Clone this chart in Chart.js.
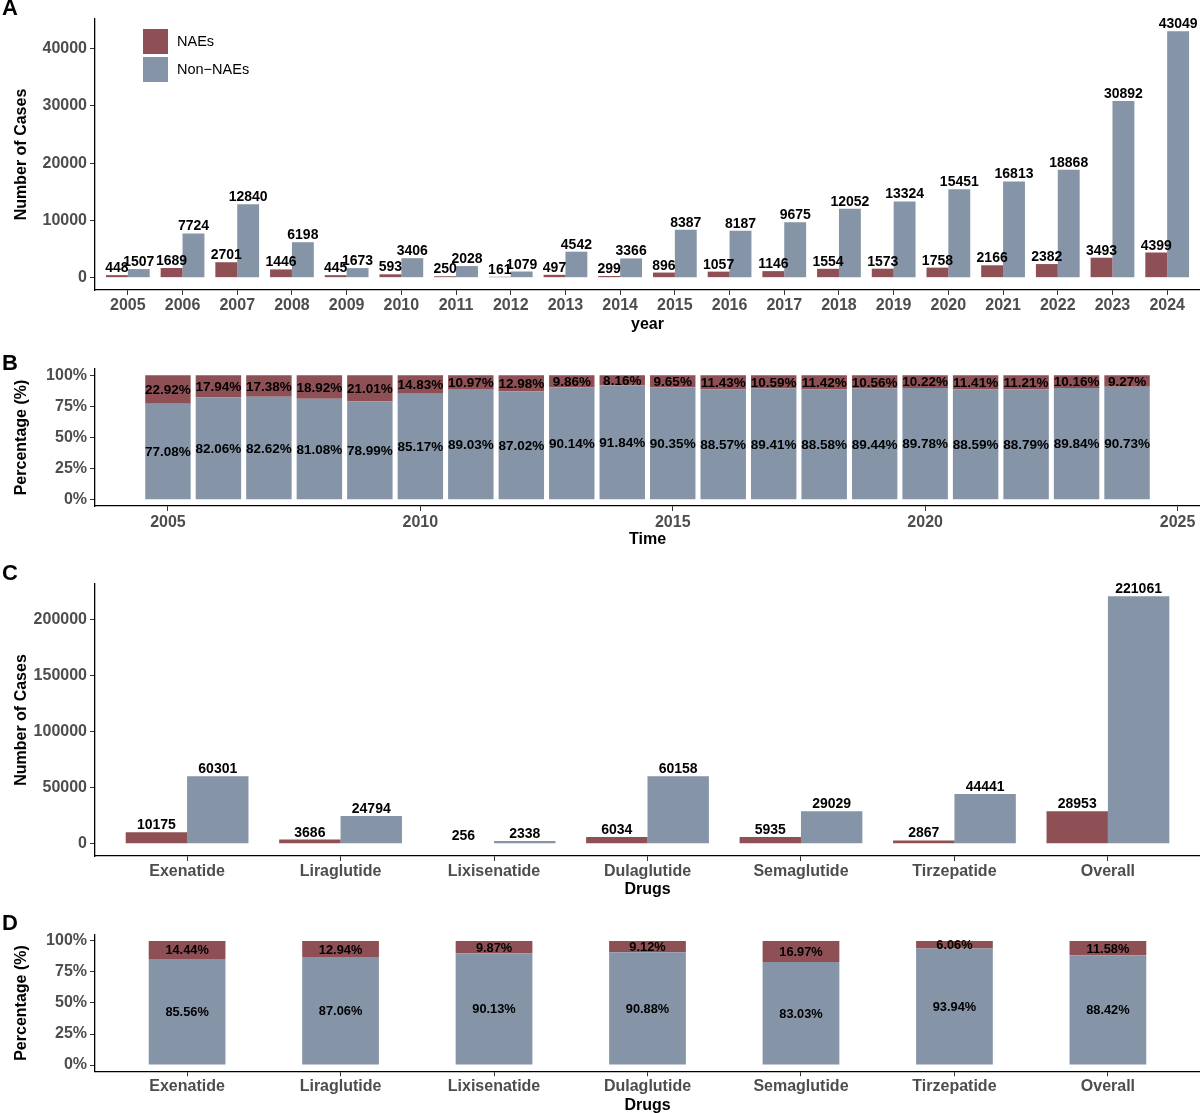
<!DOCTYPE html>
<html>
<head>
<meta charset="utf-8">
<script src="https://cdn.jsdelivr.net/npm/chart.js@4.4.1/dist/chart.umd.min.js"></script>
<style>
  body { margin: 0; background: #fff; overflow: hidden; font-family: "Liberation Sans", Arial, sans-serif; }
  #wrap { position: relative; width: 1200px; height: 1113px; overflow: hidden; }
  .panel { position: absolute; left: 0; }
  .tag { position: absolute; left: 2px; font-size: 22px; font-weight: bold; line-height: 1; }
  .sw { position: absolute; left: 143px; width: 25px; height: 25px; }
  .lt { position: absolute; left: 177px; font-size: 14.5px; line-height: 25px; color: #000; }
</style>
</head>
<body>
<div id="wrap">
  <canvas id="chartA" class="panel" style="top:0" width="1200" height="340"></canvas>
  <canvas id="chartB" class="panel" style="top:340px" width="1200" height="210"></canvas>
  <canvas id="chartC" class="panel" style="top:560px" width="1200" height="340"></canvas>
  <canvas id="chartD" class="panel" style="top:900px" width="1200" height="213"></canvas>
  <div class="tag" style="top:-3px">A</div>
  <div class="tag" style="top:352px">B</div>
  <div class="tag" style="top:562px">C</div>
  <div class="tag" style="top:912px">D</div>
  <div class="sw" style="top:29px;background:#8e5054"></div>
  <div class="sw" style="top:57px;background:#8594a7"></div>
  <div class="lt" style="top:29px">NAEs</div>
  <div class="lt" style="top:57px">Non−NAEs</div>
</div>
<script>
const RED = "#8e5054";
const BLUE = "#8594a7";

// panel A / B: by year
const years = [2005, 2006, 2007, 2008, 2009, 2010, 2011, 2012, 2013, 2014,
               2015, 2016, 2017, 2018, 2019, 2020, 2021, 2022, 2023, 2024];
const naeByYear = [448, 1689, 2701, 1446, 445, 593, 250, 161, 497, 299,
                   896, 1057, 1146, 1554, 1573, 1758, 2166, 2382, 3493, 4399];
const nonNaeByYear = [1507, 7724, 12840, 6198, 1673, 3406, 2028, 1079, 4542, 3366,
                      8387, 8187, 9675, 12052, 13324, 15451, 16813, 18868, 30892, 43049];
const naePctByYear = [22.92, 17.94, 17.38, 18.92, 21.01, 14.83, 10.97, 12.98, 9.86, 8.16,
                      9.65, 11.43, 10.59, 11.42, 10.56, 10.22, 11.41, 11.21, 10.16, 9.27];
const nonNaePctByYear = [77.08, 82.06, 82.62, 81.08, 78.99, 85.17, 89.03, 87.02, 90.14, 91.84,
                         90.35, 88.57, 89.41, 88.58, 89.44, 89.78, 88.59, 88.79, 89.84, 90.73];

// panel C / D: by drug
const drugs = ["Exenatide", "Liraglutide", "Lixisenatide", "Dulaglutide", "Semaglutide", "Tirzepatide", "Overall"];
const naeByDrug = [10175, 3686, 256, 6034, 5935, 2867, 28953];
const nonNaeByDrug = [60301, 24794, 2338, 60158, 29029, 44441, 221061];
const naePctByDrug = [14.44, 12.94, 9.87, 9.12, 16.97, 6.06, 11.58];
const nonNaePctByDrug = [85.56, 87.06, 90.13, 90.88, 83.03, 93.94, 88.42];

// tick labels
const countTicksA = [0, 10000, 20000, 30000, 40000];
const countTicksC = [0, 50000, 100000, 150000, 200000];
const pctTicks = [0, 25, 50, 75, 100];
const timeTicks = [2005, 2010, 2015, 2020, 2025];
const drugIdx = drugs.map((d, i) => i);

Chart.defaults.font.family = '"Liberation Sans", Arial, sans-serif';

// value labels on bars
const barLabels = {
  id: "barLabels",
  afterDatasetsDraw(chart, args, opts) {
    const ctx = chart.ctx;
    ctx.save();
    ctx.font = "bold " + opts.size + "px " + Chart.defaults.font.family;
    ctx.fillStyle = "#000";
    ctx.textAlign = "center";
    chart.data.datasets.forEach((ds, i) => {
      chart.getDatasetMeta(i).data.forEach((bar, j) => {
        const v = ds.data[j].y;
        if (opts.pct) {
          ctx.textBaseline = "middle";
          ctx.fillText(v.toFixed(2) + "%", bar.x, (bar.y + bar.base) / 2 + 1);
        } else {
          ctx.textBaseline = "alphabetic";
          ctx.fillText(String(v), bar.x, bar.y - 3);
        }
      });
    });
    ctx.restore();
  }
};

const pts = (xs, ys) => xs.map((x, i) => ({ x: x, y: ys[i] }));

function build(id, c) {
  const nae = { label: "NAEs", data: pts(c.xs, c.nae), backgroundColor: RED };
  const non = { label: "Non-NAEs", data: pts(c.xs, c.non), backgroundColor: BLUE };
  return new Chart(document.getElementById(id), {
    type: "bar",
    // stacked: blue at the bottom, red on top; grouped: red left, blue right
    data: { datasets: c.stacked ? [non, nae] : [nae, non] },
    plugins: [barLabels],
    options: {
      responsive: false,
      animation: false,
      barPercentage: c.barPct,
      categoryPercentage: c.catPct,
      layout: { padding: { top: c.top, left: 0, right: 0, bottom: 0 } },
      plugins: { legend: { display: false }, tooltip: { enabled: false }, barLabels: { pct: c.stacked, size: c.labelSize } },
      scales: {
        x: {
          type: "linear", min: c.xMin, max: c.xMax, stacked: c.stacked, offset: false,
          afterBuildTicks: (s) => { s.ticks = c.xTicks.map((v) => ({ value: v })); },
          afterFit: (s) => { s.height = c.xHeight; },
          grid: { drawOnChartArea: false, offset: false, tickLength: 5, color: "#333" },
          border: { display: true, color: "#000", width: 1.3 },
          ticks: { autoSkip: false, maxRotation: 0, padding: c.xTickPad, color: "#4d4d4d",
                   font: { size: 16, weight: "bold" }, callback: c.xFmt },
          title: { display: true, text: c.xTitle, color: "#000", font: { size: 16, weight: "bold" },
                   padding: { top: 0, bottom: c.xTitlePad } },
        },
        y: {
          min: c.yMin, max: c.yMax, stacked: c.stacked,
          afterBuildTicks: (s) => { s.ticks = c.yTicks.map((v) => ({ value: v })); },
          afterFit: (s) => { s.width = 95; },
          grid: { drawOnChartArea: false, tickLength: 5, color: "#333" },
          border: { display: true, color: "#000", width: 1.3 },
          ticks: { padding: 3, color: "#4d4d4d", font: { size: 16, weight: "bold" }, callback: c.yFmt },
          title: { display: true, text: c.yTitle, color: "#000", font: { size: 16, weight: "bold" },
                   padding: { top: 11.6, bottom: 0 } },
        },
      },
    },
  });
}

build("chartA", {
  xs: years, nae: naeByYear, non: nonNaeByYear, stacked: false,
  barPct: 1, catPct: 0.8, labelSize: 14, top: 19,
  xMin: 2004.4, xMax: 2024.6, xTicks: years, xFmt: (v) => String(v),
  xHeight: 50, xTickPad: 1, xTitle: "year", xTitlePad: 5.6,
  yMin: -2152, yMax: 45201, yTicks: countTicksA, yFmt: (v) => String(v), yTitle: "Number of Cases",
});

build("chartB", {
  xs: years, nae: naePctByYear, non: nonNaePctByYear, stacked: true,
  barPct: 0.9, catPct: 1, labelSize: 13.5, top: 29,
  xMin: 2003.555, xMax: 2025.445, xTicks: timeTicks, xFmt: (v) => String(v),
  xHeight: 44, xTickPad: 2, xTitle: "Time", xTitlePad: 0.6,
  yMin: -5, yMax: 105, yTicks: pctTicks, yFmt: (v) => v + "%", yTitle: "Percentage (%)",
});

build("chartC", {
  xs: drugIdx, nae: naeByDrug, non: nonNaeByDrug, stacked: false,
  barPct: 1, catPct: 0.8, labelSize: 14, top: 24,
  xMin: -0.6, xMax: 6.6, xTicks: drugIdx, xFmt: (v) => drugs[v],
  xHeight: 44, xTickPad: 1, xTitle: "Drugs", xTitlePad: 0.6,
  yMin: -11053, yMax: 232114, yTicks: countTicksC, yFmt: (v) => String(v), yTitle: "Number of Cases",
});

build("chartD", {
  xs: drugIdx, nae: naePctByDrug, non: nonNaePctByDrug, stacked: true,
  barPct: 0.5, catPct: 1, labelSize: 12.8, top: 34.8,
  xMin: -0.6, xMax: 6.6, xTicks: drugIdx, xFmt: (v) => drugs[v],
  xHeight: 41.8, xTickPad: 1, xTitle: "Drugs", xTitlePad: -2.4,
  yMin: -5, yMax: 105, yTicks: pctTicks, yFmt: (v) => v + "%", yTitle: "Percentage (%)",
});
</script>
</body>
</html>
